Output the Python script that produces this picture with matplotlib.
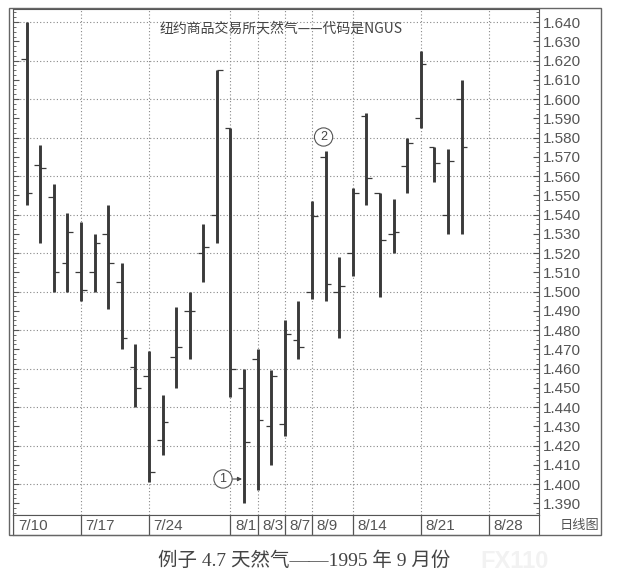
import matplotlib.pyplot as plt
from matplotlib.ticker import MultipleLocator, FormatStrFormatter
import numpy as np

plt.rcParams['font.family'] = ['Liberation Sans', 'Noto Sans CJK SC', 'DejaVu Sans']

# trading days from 7/11 to 8/24 (day 0 = 7/10, no bar shown)
dates = ['7/11', '7/12', '7/13', '7/14', '7/17', '7/18', '7/19', '7/20', '7/21',
         '7/24', '7/25', '7/26', '7/27', '7/28', '7/31', '8/1', '8/2', '8/3', '8/4',
         '8/7', '8/8', '8/9', '8/10', '8/11', '8/14', '8/15', '8/16', '8/17', '8/18',
         '8/21', '8/22', '8/23', '8/24']
opens = [1.621, 1.566, 1.549, 1.515, 1.510, 1.510, 1.530, 1.505, 1.461,
         1.456, 1.423, 1.466, 1.490, 1.520, 1.540, 1.585, 1.450, 1.465, 1.430,
         1.431, 1.475, 1.500, 1.570, 1.500, 1.520, 1.591, 1.551, 1.530, 1.565,
         1.590, 1.575, 1.540, 1.600]
highs = [1.640, 1.576, 1.556, 1.541, 1.536, 1.530, 1.545, 1.515, 1.473,
         1.469, 1.446, 1.492, 1.500, 1.535, 1.615, 1.585, 1.460, 1.470, 1.459,
         1.485, 1.495, 1.547, 1.573, 1.518, 1.554, 1.593, 1.551, 1.548, 1.580,
         1.625, 1.575, 1.574, 1.610]
lows = [1.545, 1.525, 1.500, 1.500, 1.495, 1.500, 1.491, 1.470, 1.440,
        1.401, 1.415, 1.450, 1.465, 1.505, 1.525, 1.445, 1.390, 1.397, 1.410,
        1.425, 1.465, 1.496, 1.495, 1.476, 1.508, 1.545, 1.497, 1.520, 1.551,
        1.585, 1.557, 1.530, 1.530]
closes = [1.551, 1.564, 1.510, 1.531, 1.501, 1.525, 1.515, 1.476, 1.450,
          1.406, 1.432, 1.471, 1.490, 1.523, 1.615, 1.460, 1.422, 1.433, 1.456,
          1.478, 1.471, 1.539, 1.504, 1.503, 1.551, 1.559, 1.527, 1.531, 1.577,
          1.618, 1.567, 1.568, 1.575]

label_days = [0, 5, 10, 16, 18, 20, 22, 25, 30, 35]
label_text = ['7/10', '7/17', '7/24', '8/1', '8/3', '8/7', '8/9', '8/14', '8/21', '8/28']

W, H = 622, 581
fig = plt.figure(figsize=(W / 100, H / 100), dpi=100)

# outer frame
fig.patches.append(plt.Rectangle((9 / W, (H - 535) / H), 592 / W, 527 / H,
                                 transform=fig.transFigure, fill=False,
                                 edgecolor='#666666', linewidth=1.0))

ax = fig.add_axes([13 / W, (H - 515) / H, 526 / W, 506 / H])
x = np.arange(1, len(dates) + 1)
bar_c = '#3a3a3a'
ax.vlines(x, lows, highs, color=bar_c, linewidth=2.1)
ax.hlines(opens, x - 0.42, x, color=bar_c, linewidth=0.9)
ax.hlines(closes, x, x + 0.42, color=bar_c, linewidth=0.9)

ax.set_xlim(0, 38.7)
ax.set_ylim(1.3839, 1.6468)
ax.tick_params(axis='x', length=0, labelbottom=False)

# right-hand price scale
ax.set_yticks(np.arange(1.390, 1.6405, 0.01))
ax.yaxis.set_minor_locator(MultipleLocator(0.0025))
ax.yaxis.set_major_formatter(FormatStrFormatter('%.3f'))
ax.tick_params(axis='y', which='both', direction='in', left=True, right=True,
               labelleft=False, labelright=True, colors='#555555', pad=3)
ax.tick_params(axis='y', which='major', length=4, labelsize=11)
ax.tick_params(axis='y', which='minor', length=2)
for v in np.arange(1.400, 1.641, 0.02):
    ax.axhline(v, color='#888888', linestyle=(0, (1, 2)), linewidth=0.8, zorder=0)
for d in label_days:
    ax.axvline(d, color='#888888', linestyle=(0, (1, 2)), linewidth=0.8, zorder=0)
for s in ax.spines.values():
    s.set_color('#555555')

ax.text(0.51, 0.975, '纽约商品交易所天然气——代码是NGUS', transform=ax.transAxes,
        ha='center', va='top', fontsize=10, color='#444444',
        family=['Noto Sans CJK SC', 'DejaVu Sans'])

# circled markers
circ = dict(boxstyle='circle,pad=0.25', fc='white', ec='#555555', lw=0.8)
ax.annotate('1', xy=(16.85, 1.4026), xytext=(15.45, 1.4026), ha='center', va='center',
            fontsize=9, color='#444444', bbox=circ,
            arrowprops=dict(arrowstyle='-|>', color='#444444', lw=0.8,
                            mutation_scale=6, shrinkA=0, shrinkB=0))
ax.text(22.85, 1.5803, '2', ha='center', va='center', fontsize=9, color='#444444', bbox=circ)

# date strip
sx = fig.add_axes([13 / W, (H - 535) / H, 526 / W, 20 / H])
sx.set_xlim(0, 38.7)
sx.set_ylim(0, 1)
sx.set_xticks([])
sx.set_yticks([])
for s in sx.spines.values():
    s.set_color('#555555')
for d, t in zip(label_days, label_text):
    sx.axvline(d, color='#555555', linewidth=0.9)
    sx.text(d + 0.35, 0.45, t, ha='left', va='center', fontsize=11, color='#555555')
fig.text(580 / W, (H - 526) / H, '日线图', ha='center', va='center', fontsize=9.5,
         color='#555555', family=['Noto Sans CJK SC'])

fig.text(304 / W, (H - 561) / H, '例子 4.7 天然气——1995 年 9 月份', ha='center', va='center',
         fontsize=14, color='#444444', family=['Liberation Serif', 'Noto Sans CJK SC'])
fig.text(515 / W, (H - 562) / H, 'FX110', ha='center', va='center', fontsize=17,
         color='#f2f2f2', fontweight='bold')

fig.savefig('out.png', dpi=100)
